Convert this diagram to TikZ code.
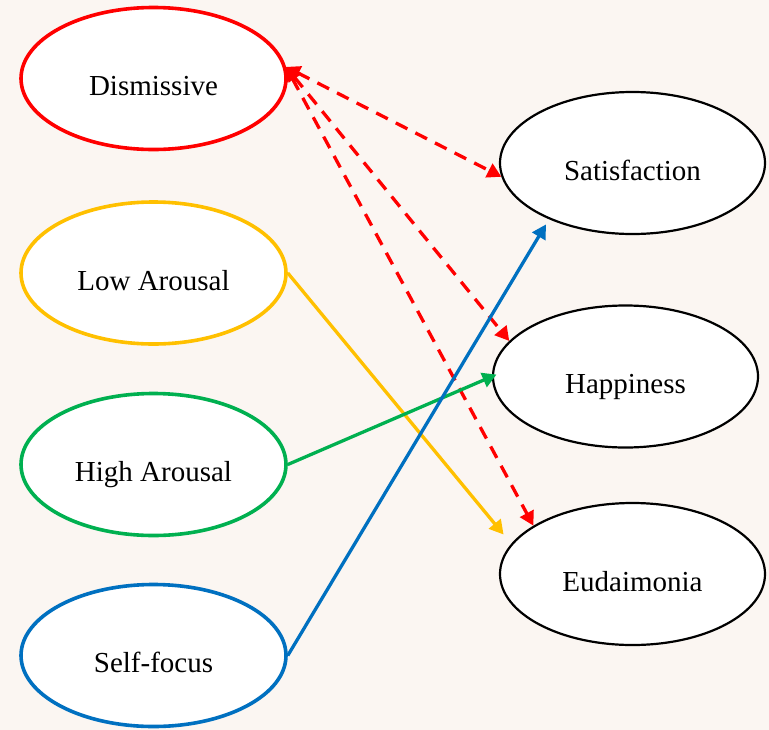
\documentclass[tikz,border=0pt]{standalone}
\usepackage{fontspec}
\setmainfont{Liberation Serif}
\usetikzlibrary{shapes.geometric,arrows.meta,backgrounds}

\definecolor{offred}{RGB}{255,0,0}
\definecolor{offgold}{RGB}{255,192,0}
\definecolor{offgreen}{RGB}{0,176,80}
\definecolor{offblue}{RGB}{0,112,192}
\definecolor{paper}{RGB}{251,246,242}

\begin{document}
\begin{tikzpicture} [x=1pt,y=-1pt,
			background rectangle/.style={fill=paper,draw=none},show background rectangle,
			>={Triangle[length=14pt,width=15pt]},line width=3.3pt,
			every node/.style={font=\fontsize{29}{34}\selectfont},
			factor/.style={ellipse,draw,line width=3.6pt,fill=white,minimum width=265pt,
				minimum height=142pt,inner sep=0pt,text height=34pt,text depth=0pt},
			outcome/.style={factor,draw=black,line width=2.2pt},
			dismiss link/.style={offred,dash pattern=on 13pt off 9pt,<->}]
		\useasboundingbox (0,0) rectangle (769,729);

			\node [outcome] (outcome-sat) at (632.5,163) {Satisfaction};
			\node [outcome] (outcome-hap) at (625.5,376.5) {Happiness};
			\node [outcome] (outcome-eud) at (632.5,574) {Eudaimonia};

			\node [factor, draw=offred] (factor-dis) at (153.5,78.5) {Dismissive};
			\node [factor, draw=offgold] (factor-low) at (153.5,273) {Low Arousal};
			\node [factor, draw=offgreen] (factor-high) at (153.5,464.5) {High Arousal};
			\node [factor, draw=offblue] (factor-self) at (153.5,655.5) {Self-focus};

			\draw [dismiss link] (factor-dis.5) -- (outcome-sat.186);
			\draw [dismiss link] (factor-dis.5) -- (outcome-hap.163);
			\draw [dismiss link] (factor-dis.5) -- (outcome-eud.154);
			\draw [offgold,->,shorten >=12pt] (factor-low.east) -- (outcome-eud.166);
			\draw [offgreen,->,shorten >=-5pt] (factor-high.east) -- (outcome-hap.west);
			\draw [offblue,->,shorten >=6pt] (factor-self.east) -- (outcome-sat.214);
		\end{tikzpicture}
\end{document}
